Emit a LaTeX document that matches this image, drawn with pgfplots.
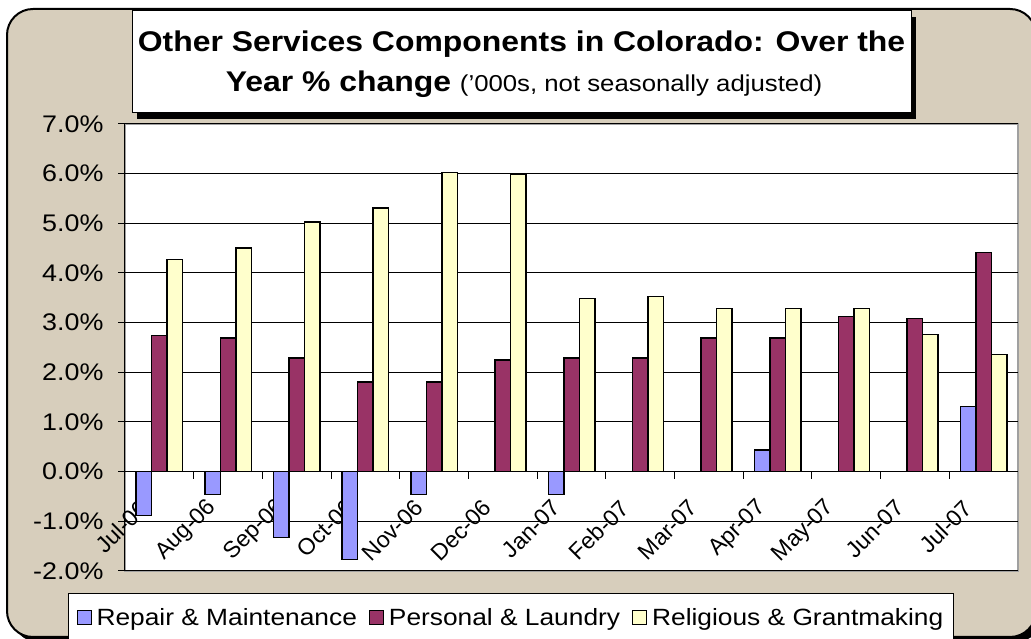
\documentclass[border=0pt]{standalone}
\usepackage{fontspec}
\setmainfont{Liberation Sans}[FakeStretch=1.12]
\newfontfamily\labelfont{Liberation Sans}
\usepackage{pgfplots}
\pgfplotsset{compat=1.18}

\definecolor{repair}{HTML}{9999FF}
\definecolor{personal}{HTML}{993366}
\definecolor{religious}{HTML}{FFFFCC}
\definecolor{burlap}{HTML}{D7CEBC}
\definecolor{plotedge}{HTML}{A0A0A0}

\begin{document}
\begin{tikzpicture}[x=1pt,y=1pt]
\useasboundingbox (0,0) rectangle (1031,639);

% outer frame with shadow
\fill[black, rounded corners=26pt] (12,-3) rectangle (1042,625);
\filldraw[fill=burlap, draw=black, line width=2pt, rounded corners=26pt] (7,2) rectangle (1036,630);

% title box with shadow
\fill[black] (137,520) rectangle (916,622);
\filldraw[fill=white, draw=black, line width=1pt] (132,526) rectangle (911,628);
\node[anchor=base, font=\bfseries\fontsize{28.5}{34}\selectfont] at (521.5,587)
  {Other Services Components in Colorado: Over the};
\node[anchor=base] at (524,547)
  {\fontsize{28.5}{34}\selectfont\bfseries Year \% change
   \fontsize{23}{28}\selectfont\mdseries ('000s, not seasonally adjusted)};

% plot area
\filldraw[fill=white, draw=plotedge, line width=1.5pt] (125,68) rectangle (1018,515);

\begin{axis}[
    at={(125pt,68pt)}, anchor=south west,
    width=893pt, height=447pt, scale only axis,
    ybar=0pt, bar width=15.5pt,
    xmin=-0.5, xmax=12.5,
    ymin=-2, ymax=7,
    axis x line*=middle, axis y line*=left,
    hide obscured x ticks=false, hide obscured y ticks=false,
    axis line style={black, line width=1pt},
    tick align=outside, major tick length=7pt,
    tick style={black, line width=1pt},
    xtick={0.5,1.5,...,11.5}, xticklabels={},
    extra x ticks={0,1,...,12},
    extra x tick labels={Jul-06,Aug-06,Sep-06,Oct-06,Nov-06,Dec-06,Jan-07,Feb-07,Mar-07,Apr-07,May-07,Jun-07,Jul-07},
    extra x tick style={major tick length=0pt, grid=none,
      xticklabel style={xshift=-13pt, yshift=-30pt, rotate=45, anchor=east}},
    xticklabel style={font=\labelfont\fontsize{23}{27}\selectfont},
    ytick={-2,-1,...,7},
    yticklabel={\pgfmathprintnumber[fixed,fixed zerofill,precision=1]{\tick}\%},
    yticklabel style={font=\fontsize{24}{28}\selectfont, xshift=-11pt},
    /pgf/number format/assume math mode=true,
    ymajorgrids, grid style={black, line width=1pt},
    legend columns=3,
    legend style={at={(-0.0638,-0.0492)}, anchor=north west,
      draw=black, fill=white, line width=1pt,
      font=\fontsize{23.5}{27}\selectfont,
      inner xsep=8pt, inner ysep=13pt,
      /tikz/every odd column/.append style={column sep=3pt},
      /tikz/every even column/.append style={column sep=10pt}},
    legend image code/.code={\draw[#1, draw=black, line width=1pt] (0pt,-7pt) rectangle (14pt,7pt);},
    every axis plot/.append style={draw=black, line width=1.5pt},
]
\addplot[fill=repair] coordinates {
  (0,-0.88) (1,-0.46) (2,-1.33) (3,-1.77) (4,-0.46)
  (6,-0.46) (9,0.44) (12,1.31)
};
\addplot[fill=personal] coordinates {
  (0,2.74) (1,2.69) (2,2.29) (3,1.81) (4,1.81) (5,2.25) (6,2.29)
  (7,2.29) (8,2.69) (9,2.69) (10,3.12) (11,3.08) (12,4.41)
};
\addplot[fill=religious] coordinates {
  (0,4.27) (1,4.50) (2,5.03) (3,5.31) (4,6.02) (5,5.98) (6,3.49)
  (7,3.53) (8,3.29) (9,3.29) (10,3.29) (11,2.76) (12,2.36)
};
\legend{Repair \& Maintenance, Personal \& Laundry, Religious \& Grantmaking}
\end{axis}
\end{tikzpicture}
\end{document}
